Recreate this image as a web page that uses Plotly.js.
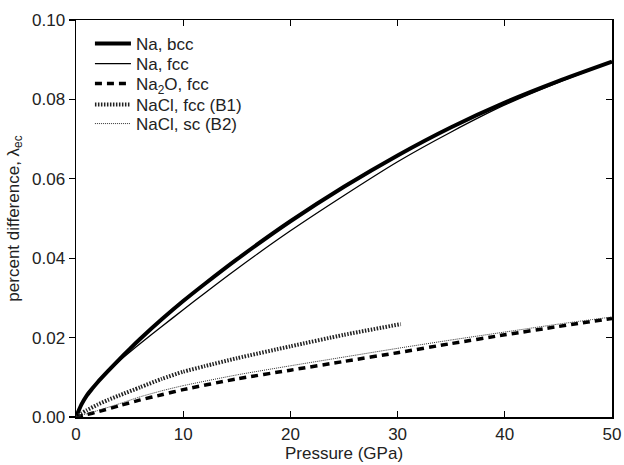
<!DOCTYPE html>
<html>
<head>
<meta charset="utf-8">
<script src="https://cdn.plot.ly/plotly-3.0.1.min.js"></script>
<style>html,body{margin:0;padding:0;background:#fff;}#chart{width:624px;height:465px;}</style>
</head>
<body>
<div id="chart"></div>
<script>
// Pressure (GPa) and percent difference values
const naBccP   = [0, 0.5, 1, 1.5, 2, 3, 4, 5, 6, 8, 10, 12, 15, 20, 25, 30, 35, 40, 45, 50];
const naBccV   = [0, 0.0031, 0.0054, 0.0071, 0.0087, 0.0116, 0.0144, 0.0171, 0.0197, 0.0246, 0.0292, 0.0335, 0.0397, 0.0493, 0.0580, 0.0659, 0.0730, 0.0792, 0.0846, 0.0895];
const naFccP   = [0, 0.5, 1, 1.5, 2, 3, 4, 5, 6, 8, 10, 12, 15, 20, 25, 30, 35, 40, 45, 50];
const naFccV   = [0, 0.0031, 0.0054, 0.0071, 0.0087, 0.0115, 0.0140, 0.0163, 0.0185, 0.0228, 0.0270, 0.0312, 0.0373, 0.0469, 0.0558, 0.0643, 0.0718, 0.0786, 0.0843, 0.0895];
const na2oP    = [0, 1, 2, 4, 6, 8, 10, 15, 20, 25, 30, 35, 40, 45, 50];
const na2oV    = [0, 0.0006, 0.0013, 0.0028, 0.0043, 0.0056, 0.0069, 0.0096, 0.0118, 0.0140, 0.0162, 0.0185, 0.0207, 0.0228, 0.0248];
const naclB1P  = [0, 0.5, 1, 2, 3, 4, 6, 8, 10, 12, 15, 20, 25, 30.3];
const naclB1V  = [0, 0.0009, 0.0017, 0.0031, 0.0043, 0.0054, 0.0075, 0.0096, 0.0114, 0.0128, 0.0148, 0.0178, 0.0207, 0.0234];
const naclB2P  = [0, 1, 2, 4, 6, 8, 10, 15, 20, 25, 30, 35, 40, 45, 50];
const naclB2V  = [0, 0.0008, 0.0016, 0.0033, 0.0051, 0.0066, 0.0079, 0.0106, 0.0129, 0.0151, 0.0173, 0.0194, 0.0214, 0.0234, 0.0252];

const seriesNames = ['Na, bcc', 'Na, fcc', 'Na<sub>2</sub>O, fcc', 'NaCl, fcc (B1)', 'NaCl, sc (B2)'];
const xTicks = [0, 10, 20, 30, 40, 50];
const yTicks = [0, 0.02, 0.04, 0.06, 0.08, 0.10];
const yTickText = ['0.00', '0.02', '0.04', '0.06', '0.08', '0.10'];

const FONT = '"Liberation Sans", Arial, Helvetica, sans-serif';
const TXT = '#222';
const SPL = {shape: 'spline', smoothing: 0.6};

const traces = [
  {x: naBccP, y: naBccV, name: seriesNames[0], mode: 'lines', legend: 'legend',
   line: Object.assign({color: '#000', width: 4}, SPL)},
  {x: naFccP, y: naFccV, name: seriesNames[1], mode: 'lines', legend: 'legend2',
   line: Object.assign({color: '#000', width: 1.3}, SPL)},
  {x: na2oP, y: na2oV, name: seriesNames[2], mode: 'lines', legend: 'legend3',
   line: Object.assign({color: '#000', width: 3.5, dash: '7px,5px'}, SPL)},
  {x: naclB1P, y: naclB1V, name: seriesNames[3], mode: 'lines', legend: 'legend4',
   line: Object.assign({color: '#222', width: 4, dash: '1.5px,1.5px'}, SPL)},
  {x: naclB2P, y: naclB2V, name: seriesNames[4], mode: 'lines', legend: 'legend5',
   line: Object.assign({color: '#333', width: 1, dash: '1px,1px'}, SPL)},
  {x: [], y: [], yaxis: 'y2', showlegend: false, hoverinfo: 'skip', mode: 'lines'}
];

function leg(y) {
  return {x: 0.026, y: y, xanchor: 'left', yanchor: 'middle', itemwidth: 36,
          bgcolor: 'rgba(0,0,0,0)', borderwidth: 0,
          font: {family: FONT, size: 17, color: TXT}};
}

const layout = {
  width: 624, height: 465,
  margin: {l: 76, r: 12, t: 20, b: 48},
  paper_bgcolor: '#fff', plot_bgcolor: '#fff',
  font: {family: FONT, size: 17, color: TXT},
  showlegend: true,
  legend: leg(0.9395),
  legend2: leg(0.889),
  legend3: leg(0.8388),
  legend4: leg(0.7859),
  legend5: leg(0.738),
  xaxis: {
    range: [0, 50], tickvals: xTicks, ticktext: xTicks.map(String),
    ticks: 'inside', ticklen: 6, tickwidth: 1.2, tickcolor: '#000',
    showline: true, linecolor: '#000', linewidth: 1.5, mirror: 'ticks',
    showgrid: false, zeroline: false,
    tickfont: {family: FONT, size: 17, color: TXT},
    ticklabelstandoff: 1,
    title: {text: 'Pressure (GPa)', font: {family: FONT, size: 17, color: TXT}, standoff: 0}
  },
  yaxis: {
    range: [0, 0.1], tickvals: yTicks, ticktext: yTickText,
    ticks: 'outside', ticklen: 6, tickwidth: 1.2, tickcolor: '#000',
    showline: true, linecolor: '#000', linewidth: 1.5, mirror: true,
    showgrid: false, zeroline: false,
    tickfont: {family: FONT, size: 17, color: TXT},
    title: {text: 'percent difference, λ<sub>ec</sub>', font: {family: FONT, size: 17, color: TXT}, standoff: 8}
  },
  yaxis2: {
    range: [0, 0.1], tickvals: yTicks, overlaying: 'y', side: 'right',
    ticks: 'inside', ticklen: 6, tickwidth: 1.2, tickcolor: '#000',
    showticklabels: false, showline: false, showgrid: false, zeroline: false
  }
};

Plotly.newPlot('chart', traces, layout, {displayModeBar: false, staticPlot: true});
</script>
</body>
</html>
